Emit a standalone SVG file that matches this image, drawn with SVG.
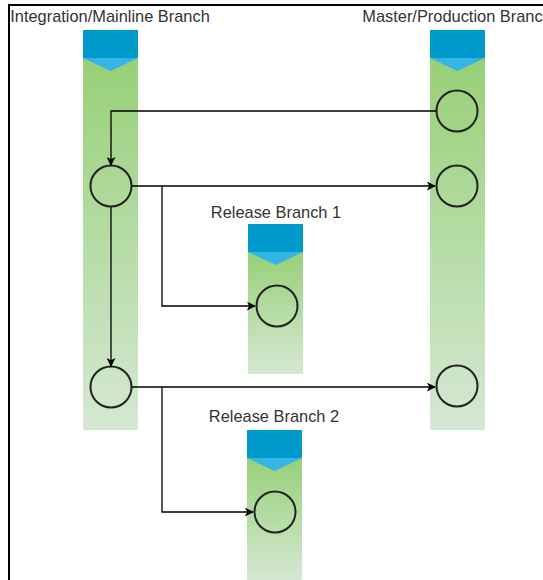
<svg xmlns="http://www.w3.org/2000/svg" width="543" height="580" viewBox="0 0 543 580">
<style>
.lbl{font-family:"Liberation Sans",Arial,sans-serif;font-size:16.4px;fill:#333;text-anchor:middle}
.hd{fill:#0099CC}
.chev{fill:#33B5E5}
.bar{fill:url(#g)}
.c{fill:none;stroke:#222;stroke-width:2}
.ln{fill:none;stroke:#000;stroke-width:1.3}
</style>
<defs>
<linearGradient id="g" x1="0" y1="0" x2="0" y2="1">
<stop offset="0" stop-color="#97D077"/>
<stop offset="1" stop-color="#D5E8D4"/>
</linearGradient>
<marker id="a" viewBox="0 0 10 10" refX="9" refY="5" markerWidth="9" markerHeight="9" orient="auto" markerUnits="userSpaceOnUse">
<path d="M0,0 L10,5 L0,10 L2.5,5 Z" fill="#000"/>
</marker>
</defs>
<rect width="543" height="580" fill="#fff"/>
<path d="M9,580 V5 H543" fill="none" stroke="#000" stroke-width="2"/>

<g id="integration">
<text class="lbl" x="110" y="22">Integration/Mainline Branch</text>
<rect class="bar" x="83" y="58" width="55" height="372"/>
<rect class="hd" x="83" y="30" width="55" height="28"/>
<path class="chev" d="M83,58 H138 L110.5,71 Z"/>
<circle class="c" cx="111" cy="186" r="20.5"/>
<circle class="c" cx="111" cy="387" r="20.5"/>
</g>

<g id="master">
<text class="lbl" x="457" y="22">Master/Production Branch</text>
<rect class="bar" x="430" y="58" width="55" height="372"/>
<rect class="hd" x="430" y="30" width="55" height="28"/>
<path class="chev" d="M430,58 H485 L457.5,71 Z"/>
<circle class="c" cx="457" cy="111" r="20.5"/>
<circle class="c" cx="457" cy="186" r="20.5"/>
<circle class="c" cx="457" cy="386" r="20.5"/>
</g>

<g id="release1">
<text class="lbl" x="276" y="218">Release Branch 1</text>
<rect class="bar" x="248" y="252" width="55" height="122"/>
<rect class="hd" x="248" y="224" width="55" height="28"/>
<path class="chev" d="M248,252 H303 L275.5,265 Z"/>
<circle class="c" cx="277" cy="306" r="20.5"/>
</g>

<g id="release2">
<text class="lbl" x="274" y="422">Release Branch 2</text>
<rect class="bar" x="247" y="458" width="55" height="122"/>
<rect class="hd" x="247" y="430" width="55" height="28"/>
<path class="chev" d="M247,458 H302 L274.5,471 Z"/>
<circle class="c" cx="275" cy="512" r="20.5"/>
</g>

<g id="connectors">
<path class="ln" d="M436,111 H111 V165" marker-end="url(#a)"/>
<path class="ln" d="M132,186 H435" marker-end="url(#a)"/>
<path class="ln" d="M162,186 V306 H255" marker-end="url(#a)"/>
<path class="ln" d="M111,207 V366" marker-end="url(#a)"/>
<path class="ln" d="M132,387 H435" marker-end="url(#a)"/>
<path class="ln" d="M162,387 V512 H253" marker-end="url(#a)"/>
</g>
</svg>
